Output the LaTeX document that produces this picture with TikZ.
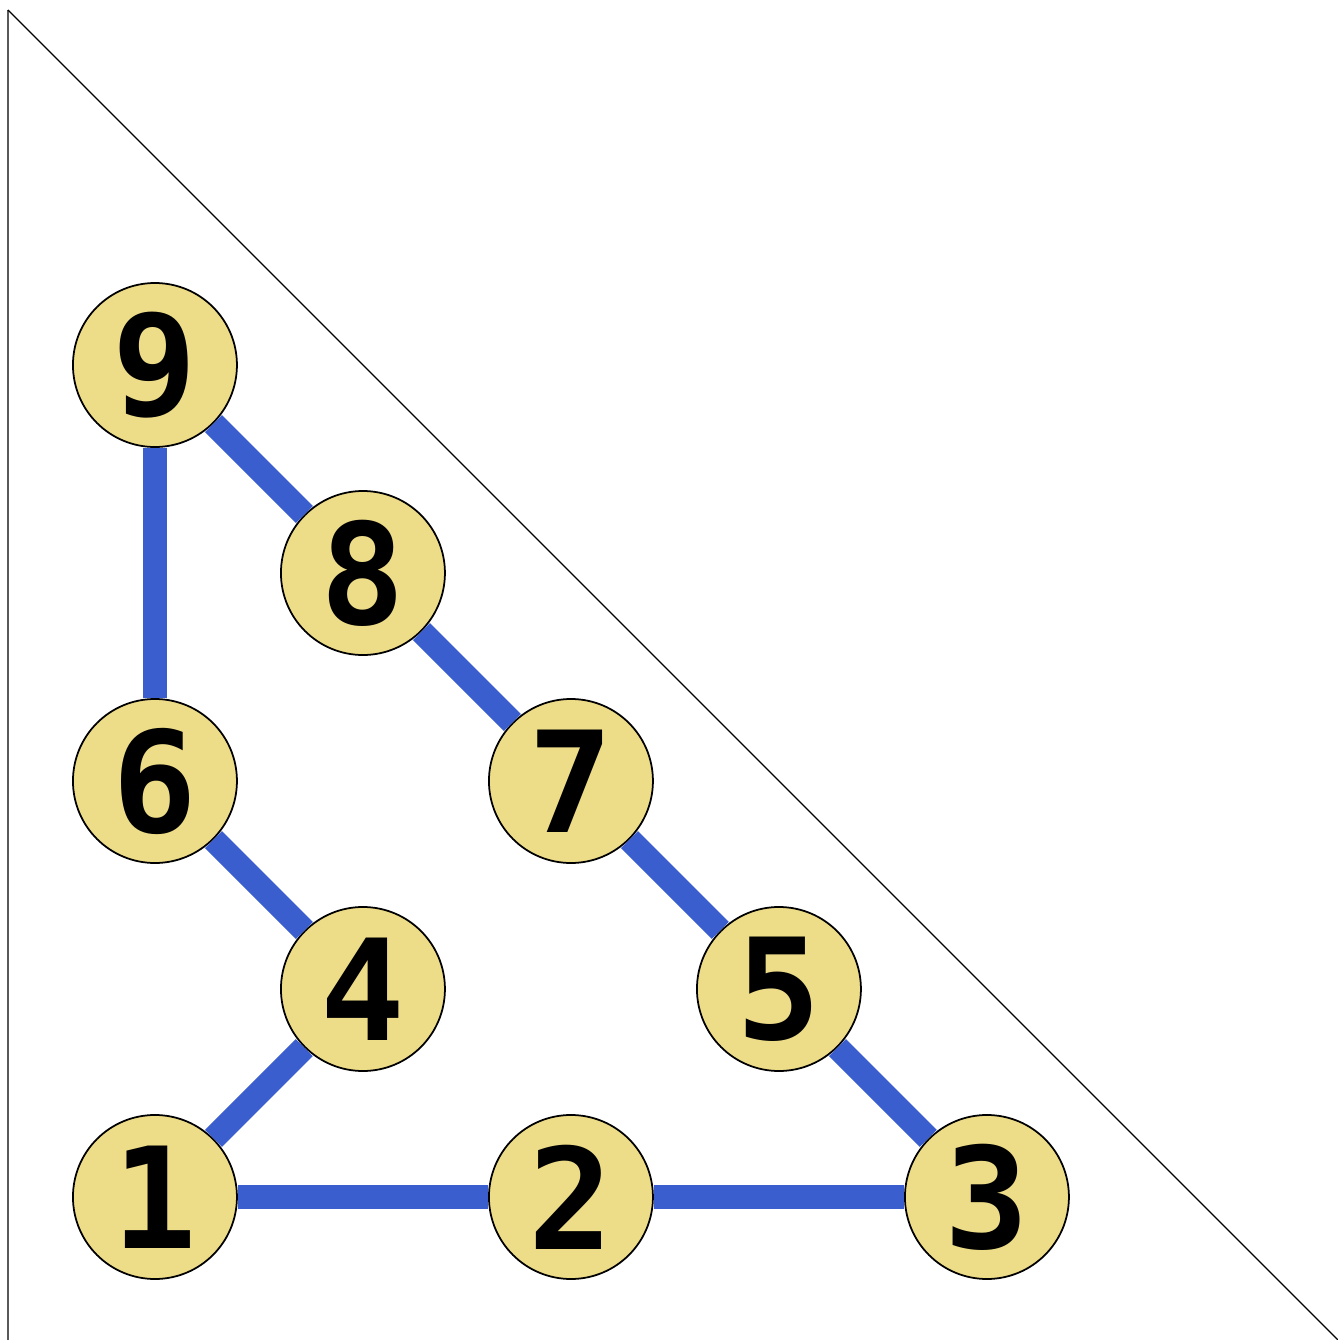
\documentclass[tikz,border=0pt]{standalone}
\usepackage{fontspec}
\usepackage{tikz}
\newfontfamily\digitfont{DejaVu Sans Mono}
\definecolor{nodefill}{RGB}{238,221,136}
\definecolor{edgeblue}{RGB}{58,94,206}

\begin{document}
\begin{tikzpicture}[x=2.08cm,y=2.08cm,
        vertex/.style={circle,draw,line width=0.5pt,fill=nodefill,minimum size=1.64cm,inner sep=0pt,
            font=\digitfont\bfseries\fontsize{40}{48}\selectfont},
        edge/.style={draw=edgeblue,line width=0.24cm}]
    \useasboundingbox (-0.745,-0.6875) rectangle (5.683,5.755);
    
    % Border lines
    \coordinate (apex) at (-0.707,5.707);
    \coordinate (foot) at (-0.707,-0.6875);
    \coordinate (tip) at (5.6875,-0.6875);
    \draw[gray!70!black,line width=0.45pt] (apex) -- (foot);
    \draw[line width=0.35pt] (apex) -- (tip);
    
    % Row 0
    \node[vertex] (1) at (0,0) {1};
    \node[vertex] (2) at (2,0) {2};
    \node[vertex] (3) at (4,0) {3};
    
    % Row 1
    \node[vertex] (4) at (1,1) {4};
    \node[vertex] (5) at (3,1) {5};
    
    % Row 2
    \node[vertex] (6) at (0,2) {6};
    \node[vertex] (7) at (2,2) {7};
    
    % Row 3
    \node[vertex] (8) at (1,3) {8};
    
    % Row 4
    \node[vertex] (9) at (0,4) {9};
    
    % Edges
    \draw[edge] (1) -- (2);
    \draw[edge] (2) -- (3);
    \draw[edge] (3) -- (5);
    \draw[edge] (5) -- (7);
    \draw[edge] (7) -- (8);
    \draw[edge] (8) -- (9);
    \draw[edge] (9) -- (6);
    \draw[edge] (6) -- (4);
    \draw[edge] (4) -- (1);
\end{tikzpicture}
\end{document}
